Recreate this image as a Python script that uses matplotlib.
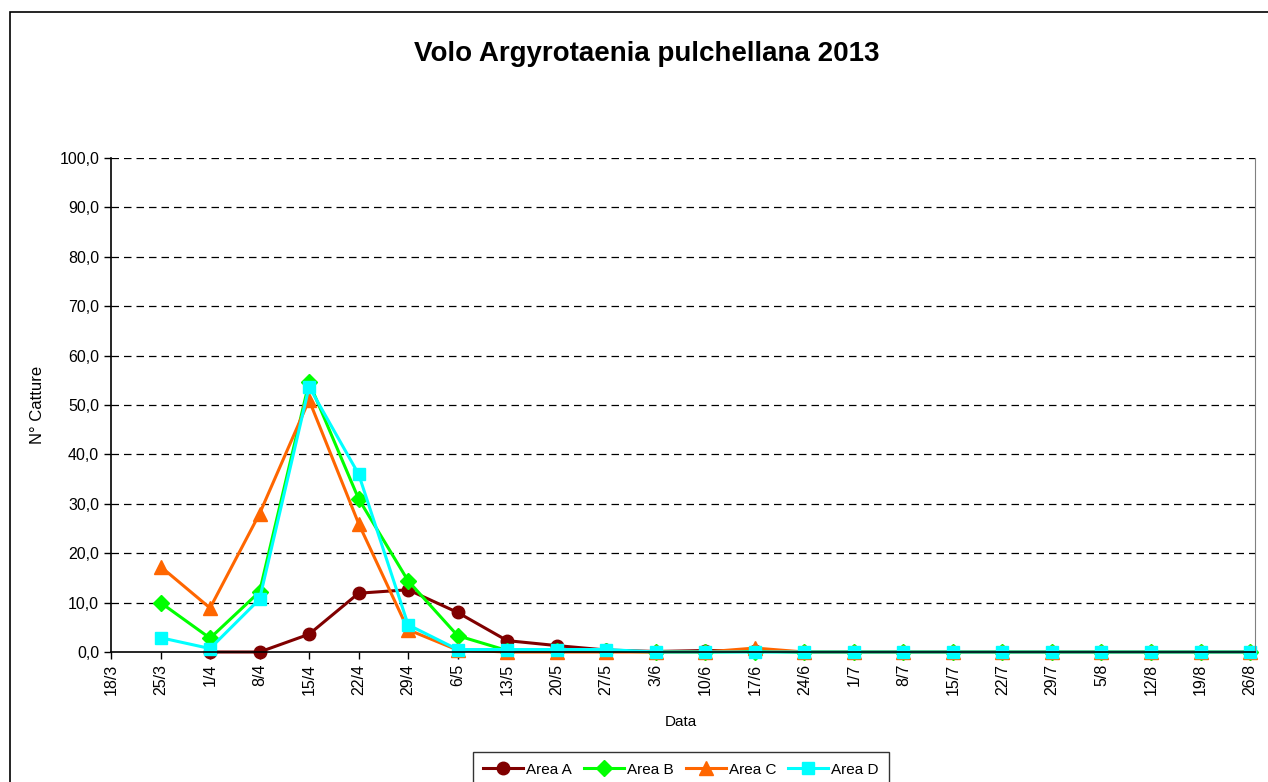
import matplotlib
matplotlib.use("Agg")
import matplotlib.pyplot as plt
from matplotlib.patches import Rectangle
import numpy as np

plt.rcParams['font.family'] = ['Liberation Sans', 'DejaVu Sans']

dates = ["18/3", "25/3", "1/4", "8/4", "15/4", "22/4", "29/4", "6/5", "13/5", "20/5",
         "27/5", "3/6", "10/6", "17/6", "24/6", "1/7", "8/7", "15/7", "22/7", "29/7",
         "5/8", "12/8", "19/8", "26/8"]
nan = np.nan
area_a = [nan, nan, 0.0, 0.0, 3.6, 11.9, 12.6, 8.0, 2.3, 1.3, 0.4, 0.1, 0.3, 0.2, 0.0,
          0.0, 0.0, 0.0, 0.0, 0.0, 0.0, 0.0, 0.0, 0.0]
area_b = [nan, 10.0, 2.8, 12.2, 54.6, 31.0, 14.4, 3.3, 0.3, 0.2, 0.2, 0.0, 0.0, 0.1, 0.0,
          0.0, 0.0, 0.0, 0.0, 0.0, 0.0, 0.0, 0.0, 0.0]
area_c = [nan, 17.3, 8.9, 28.0, 51.0, 26.0, 4.5, 0.4, 0.0, 0.0, 0.0, 0.0, 0.0, 0.8, 0.0,
          0.0, 0.0, 0.0, 0.0, 0.0, 0.0, 0.0, 0.0, 0.0]
area_d = [nan, 2.9, 0.7, 10.7, 53.7, 36.0, 5.5, 0.5, 0.5, 0.5, 0.5, 0.0, 0.0, 0.0, 0.0,
          0.0, 0.0, 0.0, 0.0, 0.0, 0.0, 0.0, 0.0, 0.0]

fig = plt.figure(figsize=(12.68, 7.82), dpi=100)
fig.patches.append(Rectangle((10/1268, -0.1), 1.2, 1 - 12/782 + 0.1, transform=fig.transFigure,
                             fill=False, edgecolor='black', linewidth=1.2, zorder=0))

ax = fig.add_axes([111/1268, 1 - 652/782, (1255 - 111)/1268, (652 - 158)/782])
x = np.arange(len(dates))

ax.plot(x, area_a, color='#800000', marker='o', markersize=9, linewidth=2.2, label='Area A', clip_on=False)
ax.plot(x, area_b, color='#00FF00', marker='D', markersize=8, linewidth=2.2, label='Area B', clip_on=False)
ax.plot(x, area_c, color='#FF6600', marker='^', markersize=10, linewidth=2.2, label='Area C', clip_on=False)
ax.plot(x, area_d, color='#00FFFF', marker='s', markersize=9, linewidth=2.2, label='Area D', clip_on=False)

ax.set_xlim(0, 23.1)
ax.set_ylim(0, 100)
ax.set_yticks(np.arange(0, 101, 10))
ax.set_yticklabels([f"{v:.1f}".replace('.', ',') for v in np.arange(0, 101, 10)], fontsize=11.5)
ax.set_xticks(x)
ax.set_xticklabels(dates, rotation=90, fontsize=11.5)
ax.tick_params(direction='out', length=5, width=1, color='black')

for v in range(10, 101, 10):
    ax.axhline(v, color='black', linestyle=(0, (6, 4)), linewidth=0.9, zorder=0.5)

ax.spines['top'].set_visible(False)
ax.spines['right'].set_color('#808080')
ax.spines['left'].set_linewidth(1.2)
ax.spines['bottom'].set_linewidth(1.2)

ax.set_ylabel("N° Catture", fontsize=12)
ax.yaxis.set_label_coords((37 - 111)/1144, 0.5)
ax.set_xlabel("Data", fontsize=11)
ax.xaxis.set_label_coords((681 - 111)/1144, (652 - 722)/494)
ax.xaxis.label.set_va('center')
ax.yaxis.label.set_va('center')

fig.text(647/1268, 1 - 61/782, "Volo Argyrotaenia pulchellana 2013", ha='center', va='baseline',
         fontsize=20, fontweight='bold')

leg = fig.legend(loc='upper center', bbox_to_anchor=(681/1268, 1 - 752/782), ncol=4,
                 fontsize=11, frameon=True, fancybox=False, edgecolor='black',
                 handlelength=2.6, handletextpad=0.2, columnspacing=0.8, borderpad=0.7,
                 borderaxespad=0)
leg.get_frame().set_linewidth(1.0)

fig.savefig("out.png", dpi=100)
